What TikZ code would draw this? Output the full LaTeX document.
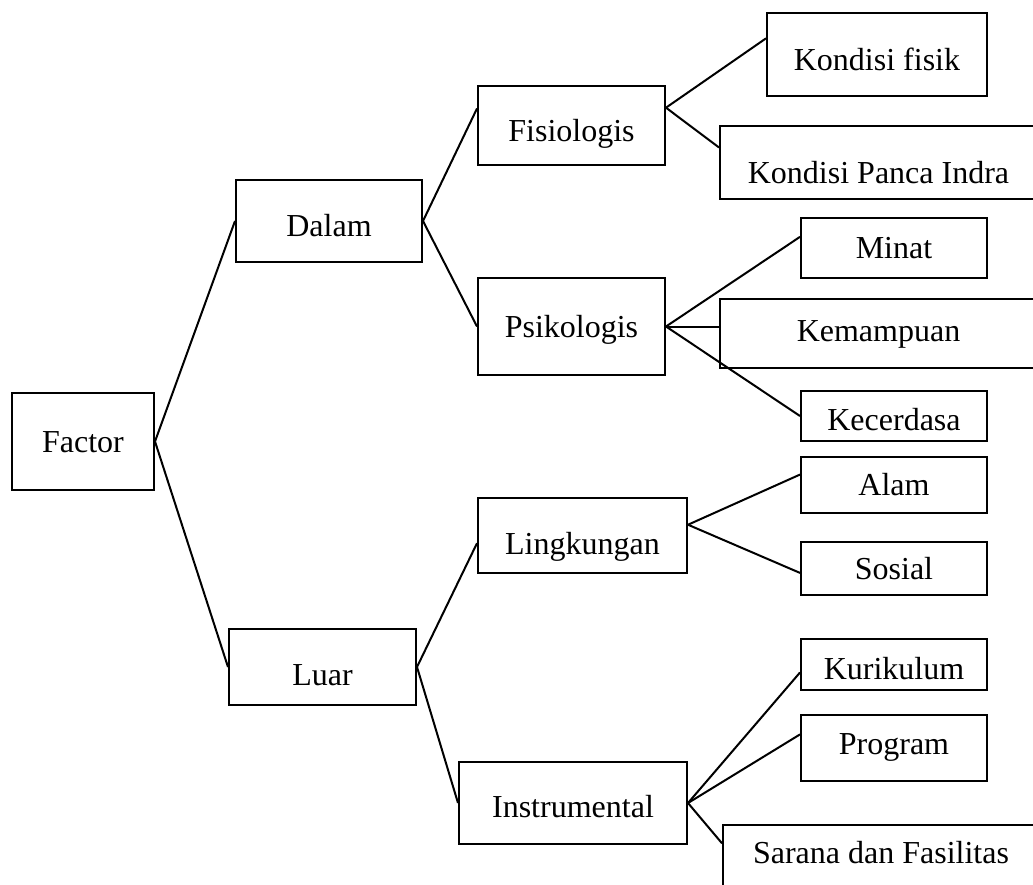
\documentclass[tikz,border=0pt]{standalone}
\usepackage{fontspec}
\setmainfont{Liberation Serif}
\usetikzlibrary{calc}

\begin{document}
\begin{tikzpicture}[x = 0.5pt, y = -0.5pt, font = \fontsize{16pt}{19pt}\selectfont,
        kotak/.style = {draw, line width = 1pt, inner sep = 0pt, text height = 10.5pt, text depth = 0pt},
        garis/.style = {draw, line width = 1pt}]
            \path[use as bounding box](0,0)rectangle(1033,884);
            \clip(0,0)rectangle(1033,884);
            % akar
            \node[kotak, minimum width = 71pt, minimum height = 48.5pt](faktor)at(83,441.5){Factor};
            % tingkat 1
            \node[kotak, minimum width = 93pt, minimum height = 41pt, text height = 15.5pt](dalam)at(329,221){Dalam};
            \node[kotak, minimum width = 93.5pt, minimum height = 38pt, text height = 18.5pt](luar)at(322.5,667){Luar};
            % tingkat 2
            \node[kotak, minimum width = 93.5pt, minimum height = 39.5pt, text height = 15.5pt](fisiologis)at(571.5,125.5){Fisiologis};
            \node[kotak, minimum width = 93.5pt, minimum height = 48.5pt](psikologis)at(571.5,326.5){Psikologis};
            \node[kotak, minimum width = 104.5pt, minimum height = 37.5pt, text height = 18.5pt](lingkungan)at(582.5,535.5){Lingkungan};
            \node[kotak, minimum width = 114pt, minimum height = 41pt, text height = 14.5pt](instrumental)at(573,803){Instrumental};
            % tingkat 3
            \node[kotak, minimum width = 110pt, minimum height = 41.5pt, text height = 15.5pt](fisik)at(877,54.5){Kondisi fisik};
            \node[kotak, minimum width = 158.5pt, minimum height = 36.5pt, text height = 20.5pt](panca)at(878.5,162.5){Kondisi Panca Indra};
            \node[kotak, minimum width = 93pt, minimum height = 30pt](minat)at(894,248){Minat};
            \node[kotak, minimum width = 158.5pt, minimum height = 34.5pt, text height = 7.5pt](kemampuan)at(878.5,333.5){Kemampuan};
            \node[kotak, minimum width = 93pt, minimum height = 25pt, text height = 14.5pt](kecerdasa)at(894,416){Kecerdasa};
            \node[kotak, minimum width = 93pt, minimum height = 28pt](alam)at(894,485){Alam};
            \node[kotak, minimum width = 93pt, minimum height = 26.5pt](sosial)at(894,568.5){Sosial};
            \node[kotak, minimum width = 93pt, minimum height = 25.5pt, text height = 14.5pt](kurikulum)at(894,664.5){Kurikulum};
            \node[kotak, minimum width = 93pt, minimum height = 33pt, text height = 6.5pt](program)at(894,748){Program};
            \node[kotak, minimum width = 158pt, minimum height = 45pt, text depth = 17pt](sarana)at(881,870){Sarana dan Fasilitas};
            % garis akar
            \path[garis](faktor.east)to(dalam.west);
            \path[garis](faktor.east)to(luar.west);
            % garis Dalam
            \path[garis](dalam.east)to($(fisiologis.north west)!0.29!(fisiologis.south west)$);
            \path[garis](dalam.east)to(psikologis.west);
            \path[garis]($(fisiologis.north east)!0.28!(fisiologis.south east)$)to($(fisik.north west)!0.31!(fisik.south west)$);
            \path[garis]($(fisiologis.north east)!0.28!(fisiologis.south east)$)to($(panca.north west)!0.3!(panca.south west)$);
            \path[garis](psikologis.east)to($(minat.north west)!0.32!(minat.south west)$);
            \path[garis](psikologis.east)to(psikologis.east -| kemampuan.west);
            \path[garis](psikologis.east)to(kecerdasa.west);
            % garis Luar
            \path[garis](luar.east)to($(lingkungan.north west)!0.6!(lingkungan.south west)$);
            \path[garis](luar.east)to(instrumental.west);
            \path[garis]($(lingkungan.north east)!0.36!(lingkungan.south east)$)to($(alam.north west)!0.32!(alam.south west)$);
            \path[garis]($(lingkungan.north east)!0.36!(lingkungan.south east)$)to($(sosial.north west)!0.58!(sosial.south west)$);
            \path[garis](instrumental.east)to($(kurikulum.north west)!0.65!(kurikulum.south west)$);
            \path[garis](instrumental.east)to($(program.north west)!0.3!(program.south west)$);
            \path[garis](instrumental.east)to($(sarana.north west)!0.21!(sarana.south west)$);
        \end{tikzpicture}
\end{document}
